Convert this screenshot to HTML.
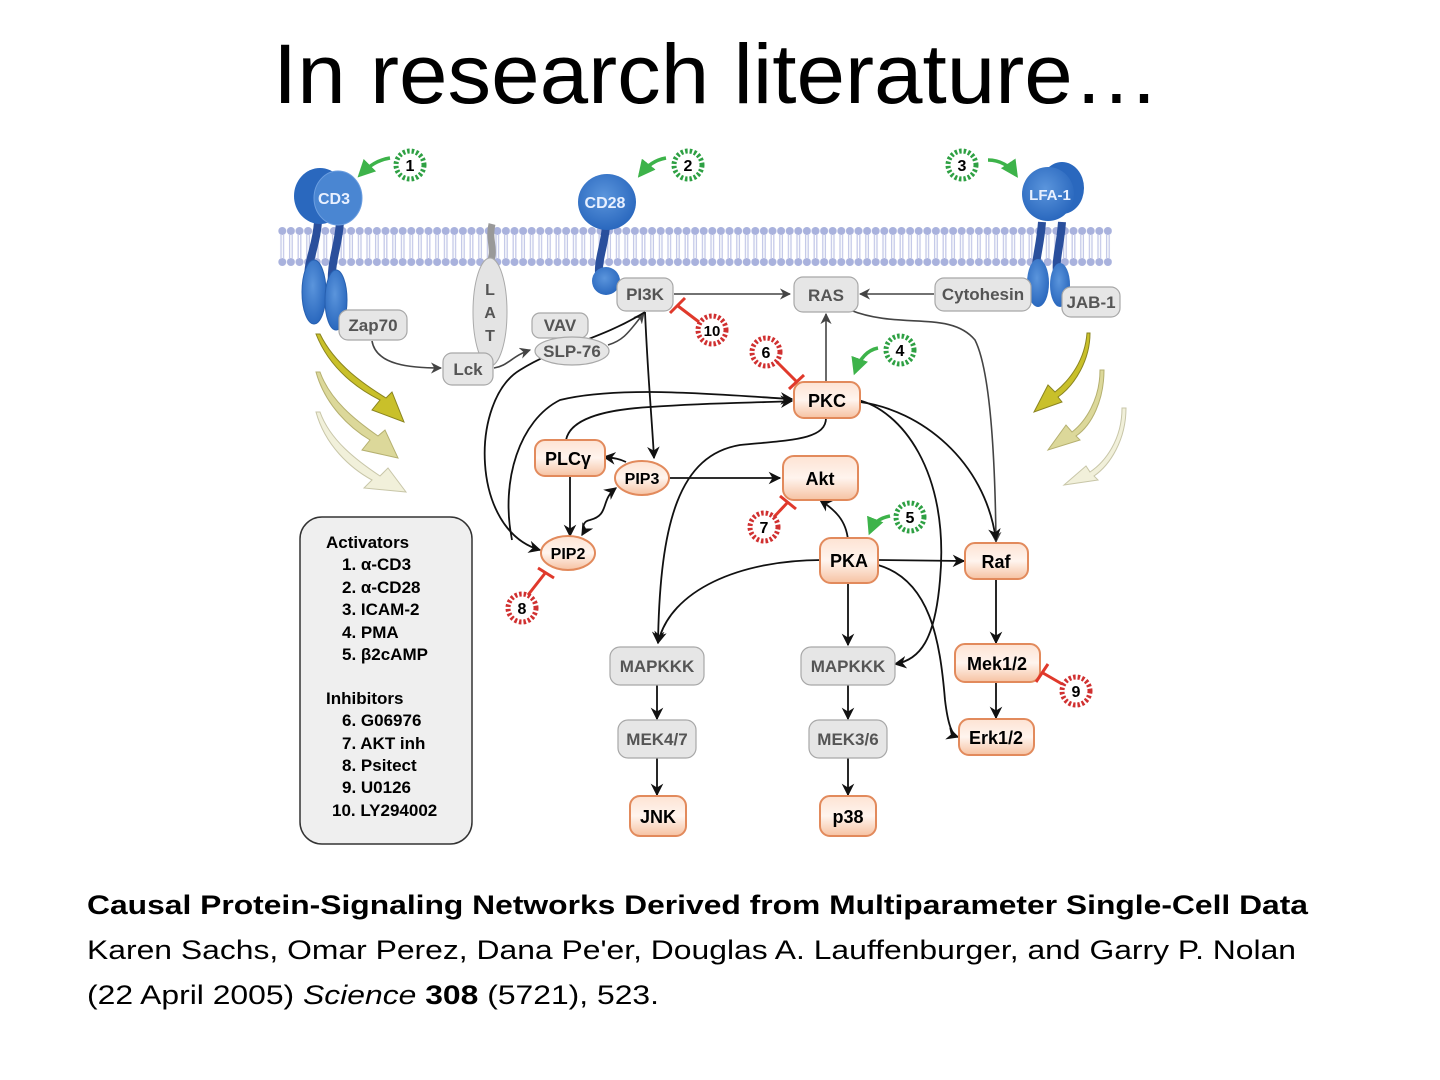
<!DOCTYPE html>
<html><head><meta charset="utf-8"><style>
html,body{margin:0;padding:0;background:#fff;width:1440px;height:1080px;overflow:hidden}
svg{display:block}
</style></head><body>
<svg width="1440" height="1080" viewBox="0 0 1440 1080" xmlns="http://www.w3.org/2000/svg" font-family="Liberation Sans, Arial, sans-serif">
<defs>
<marker id="a" viewBox="0 0 10 10" refX="9" refY="5" markerWidth="7" markerHeight="7" orient="auto-start-reverse"><path d="M0,0 L10,5 L0,10 L3,5z" fill="#111"/></marker>
<marker id="g" viewBox="0 0 10 10" refX="9" refY="5" markerWidth="7" markerHeight="7" orient="auto"><path d="M0,0 L10,5 L0,10 L3,5z" fill="#444"/></marker>
<marker id="gr" viewBox="0 0 10 10" refX="8" refY="5" markerWidth="5" markerHeight="5" orient="auto"><path d="M0,0 L10,5 L0,10z" fill="#3db34a"/></marker>
<pattern id="lip" x="278" y="0" width="8.6" height="1080" patternUnits="userSpaceOnUse">
<circle cx="4.3" cy="231" r="4" fill="#a9b2dd"/><circle cx="4.3" cy="262" r="4" fill="#a9b2dd"/>
<line x1="3" y1="234" x2="3" y2="259" stroke="#c4c9e8" stroke-width="1.3"/><line x1="5.6" y1="234" x2="5.6" y2="259" stroke="#c4c9e8" stroke-width="1.3"/>
</pattern>
<linearGradient id="og" x1="0" y1="0" x2="0" y2="1"><stop offset="0" stop-color="#fde3d3"/><stop offset="0.5" stop-color="#fff4ee"/><stop offset="1" stop-color="#f6c2a2"/></linearGradient>
<radialGradient id="bl" cx="0.45" cy="0.4" r="0.6"><stop offset="0" stop-color="#5b95dc"/><stop offset="1" stop-color="#2a68be"/></radialGradient>
</defs>

<text x="273" y="103" font-size="84" textLength="887" lengthAdjust="spacingAndGlyphs" fill="#000">In research literature…</text>

<rect x="278" y="224" width="834" height="44" fill="url(#lip)"/>

<path d="M316,334 C330,370 360,390 380,400 L372,410 L404,422 L392,392 L386,398 C365,385 335,365 320,334z" fill="#c9c02a" stroke="#8a8420" stroke-width="1"/>
<path d="M316,372 C325,405 350,428 370,440 L362,450 L398,458 L385,430 L378,436 C355,420 330,400 320,372z" fill="#dcd89a" stroke="#b5b070" stroke-width="1"/>
<path d="M316,412 C325,445 350,468 372,480 L364,488 L406,492 L388,468 L380,476 C356,460 330,440 320,412z" fill="#f1f0da" stroke="#c8c6a8" stroke-width="1"/>
<path d="M1087,333 C1085,360 1070,380 1055,392 L1048,385 L1034,412 L1062,402 L1058,397 C1075,385 1090,360 1090,333z" fill="#c9c02a" stroke="#8a8420" stroke-width="1"/>
<path d="M1100,370 C1100,400 1085,422 1072,432 L1066,425 L1048,450 L1080,440 L1076,436 C1092,425 1104,400 1104,370z" fill="#dcd89a" stroke="#b5b070" stroke-width="1"/>
<path d="M1122,408 C1122,440 1105,462 1090,472 L1086,466 L1064,485 L1098,480 L1094,476 C1110,465 1126,440 1126,408z" fill="#f1f0da" stroke="#c8c6a8" stroke-width="1"/>

<path d="M318,222 C316,250 306,260 308,290" stroke="#2a4f9c" stroke-width="8" fill="none"/>
<path d="M340,222 C338,250 330,260 332,290" stroke="#2a4f9c" stroke-width="8" fill="none"/>
<ellipse cx="314" cy="292" rx="12" ry="32" fill="url(#bl)" stroke="#2760b0"/>
<ellipse cx="336" cy="300" rx="11" ry="30" fill="url(#bl)" stroke="#2760b0"/>
<ellipse cx="320" cy="196" rx="26" ry="28" fill="#2a68be"/>
<ellipse cx="338" cy="198" rx="24" ry="27" fill="#4a86d2" stroke="#6b9ee0"/>
<text x="334" y="204" font-size="16" font-weight="bold" fill="#e8f0ff" text-anchor="middle">CD3</text>
<path d="M606,226 C604,250 596,262 600,282" stroke="#2a4f9c" stroke-width="8" fill="none"/>
<circle cx="606" cy="281" r="14" fill="url(#bl)"/>
<ellipse cx="607" cy="202" rx="29" ry="28" fill="url(#bl)"/>
<text x="605" y="208" font-size="16" font-weight="bold" fill="#e8f0ff" text-anchor="middle">CD28</text>
<path d="M1042,222 C1040,250 1034,260 1036,282" stroke="#2a4f9c" stroke-width="8" fill="none"/>
<path d="M1062,222 C1060,250 1054,260 1058,282" stroke="#2a4f9c" stroke-width="8" fill="none"/>
<ellipse cx="1038" cy="283" rx="11" ry="24" fill="url(#bl)"/>
<ellipse cx="1060" cy="285" rx="10" ry="22" fill="url(#bl)"/>
<ellipse cx="1062" cy="188" rx="22" ry="26" fill="#2a68be"/>
<ellipse cx="1048" cy="194" rx="26" ry="27" fill="url(#bl)"/>
<text x="1050" y="200" font-size="15" font-weight="bold" fill="#e8f0ff" text-anchor="middle">LFA-1</text>

<path d="M492,224 C488,240 496,250 490,262" stroke="#999" stroke-width="7" fill="none"/>
<ellipse cx="490" cy="312" rx="17" ry="54" fill="#e4e4e4" stroke="#aaa"/>
<text x="490" y="295" font-size="16" font-weight="bold" fill="#555" text-anchor="middle">L</text>
<text x="490" y="318" font-size="16" font-weight="bold" fill="#555" text-anchor="middle">A</text>
<text x="490" y="341" font-size="16" font-weight="bold" fill="#555" text-anchor="middle">T</text>

<g stroke="#444" stroke-width="1.6" fill="none" marker-end="url(#g)">
<path d="M372,341 C376,365 410,368 441,368"/>
<path d="M494,368 C508,366 512,356 530,350"/>
<path d="M608,345 C625,340 630,330 644,313"/>
<path d="M674,294 L790,294"/>
<path d="M934,294 L860,294"/>
<path d="M826,382 L826,314"/>
<path d="M850,310 C900,330 950,310 975,340 C990,370 995,450 996,542"/>
</g>
<g stroke="#111" stroke-width="1.8" fill="none" marker-end="url(#a)">
<path d="M645,312 C600,340 560,345 520,370 C470,400 470,530 540,550"/>
<path d="M645,312 C648,380 652,420 654,458"/>
<path d="M512,540 C500,480 520,420 560,400 C620,385 720,395 792,399"/>
<path d="M566,440 C570,420 600,410 650,407 C720,402 760,403 792,401"/>
<path d="M626,462 C618,458 612,458 604,457"/>
<path d="M570,476 L570,536"/>
<path d="M668,478 L780,478"/>
<path d="M848,540 C846,520 835,510 820,500"/>
<path d="M826,418 C826,440 790,440 740,445 C680,455 660,520 658,643"/>
<path d="M822,560 C740,560 670,590 658,643"/>
<path d="M878,560 L964,561"/>
<path d="M848,582 L848,645"/>
<path d="M858,400 C900,410 950,470 940,580 C935,640 920,660 895,664"/>
<path d="M860,402 C920,410 985,460 996,540"/>
<path d="M878,565 C930,580 940,640 945,700 C948,725 952,735 958,737"/>
<path d="M996,580 L996,643"/>
<path d="M996,683 L996,718"/>
<path d="M657,684 L657,719"/>
<path d="M657,758 L657,795"/>
<path d="M848,684 L848,719"/>
<path d="M848,758 L848,795"/>
</g>
<path d="M616,488 C600,500 610,515 590,520 C580,522 585,530 582,535" stroke="#111" stroke-width="1.8" fill="none" marker-start="url(#a)" marker-end="url(#a)"/>

<g fill="#e6e6e6" stroke="#a8a8a8" stroke-width="1.2">
<rect x="339" y="310" width="68" height="30" rx="9"/>
<rect x="443" y="353" width="50" height="32" rx="9"/>
<rect x="532" y="313" width="56" height="25" rx="8"/>
<ellipse cx="572" cy="351" rx="37" ry="14"/>
<rect x="617" y="278" width="56" height="33" rx="9"/>
<rect x="794" y="277" width="64" height="35" rx="9"/>
<rect x="935" y="278" width="96" height="33" rx="9"/>
<rect x="1062" y="287" width="58" height="30" rx="9"/>
<rect x="610" y="647" width="94" height="38" rx="10"/>
<rect x="801" y="647" width="94" height="38" rx="10"/>
<rect x="618" y="720" width="78" height="38" rx="10"/>
<rect x="809" y="720" width="78" height="38" rx="10"/>
</g>
<g font-size="17" font-weight="bold" fill="#555" text-anchor="middle">
<text x="373" y="331">Zap70</text>
<text x="468" y="375">Lck</text>
<text x="560" y="331">VAV</text>
<text x="572" y="357">SLP-76</text>
<text x="645" y="300">PI3K</text>
<text x="826" y="301">RAS</text>
<text x="983" y="300">Cytohesin</text>
<text x="1091" y="308">JAB-1</text>
<text x="657" y="672">MAPKKK</text>
<text x="848" y="672">MAPKKK</text>
<text x="657" y="745">MEK4/7</text>
<text x="848" y="745">MEK3/6</text>
</g>

<g fill="url(#og)" stroke="#e28a5c" stroke-width="2">
<rect x="794" y="382" width="66" height="36" rx="10"/>
<rect x="535" y="440" width="70" height="36" rx="10"/>
<ellipse cx="642" cy="478" rx="27" ry="17"/>
<rect x="783" y="456" width="75" height="44" rx="11"/>
<ellipse cx="568" cy="553" rx="27" ry="17"/>
<rect x="820" y="538" width="58" height="45" rx="11"/>
<rect x="965" y="543" width="63" height="36" rx="10"/>
<rect x="955" y="644" width="85" height="38" rx="10"/>
<rect x="959" y="719" width="75" height="36" rx="10"/>
<rect x="630" y="796" width="56" height="40" rx="10"/>
<rect x="820" y="796" width="56" height="40" rx="10"/>
</g>
<g font-size="18" font-weight="bold" fill="#000" text-anchor="middle">
<text x="827" y="407">PKC</text>
<text x="568" y="465">PLCγ</text>
<text x="642" y="484" font-size="16">PIP3</text>
<text x="820" y="485">Akt</text>
<text x="568" y="559" font-size="16">PIP2</text>
<text x="849" y="567">PKA</text>
<text x="996" y="568">Raf</text>
<text x="997" y="670">Mek1/2</text>
<text x="996" y="744">Erk1/2</text>
<text x="658" y="823">JNK</text>
<text x="848" y="823">p38</text>
</g>

<g stroke="#3db34a" stroke-width="3.5" fill="none" marker-end="url(#gr)">
<path d="M390,158 C378,160 370,165 360,175"/>
<path d="M666,158 C655,160 648,165 640,175"/>
<path d="M988,160 C1000,160 1010,166 1016,175"/>
<path d="M878,348 C868,350 860,358 855,372"/>
<path d="M890,516 C880,518 874,522 870,532"/>
</g>
<g stroke="#e0392b" stroke-width="3" fill="none">
<path d="M699,322 L678,306"/><path d="M670,313 L685,298"/>
<path d="M777,362 L797,382"/><path d="M789,389 L804,375"/>
<path d="M773,518 L788,502"/><path d="M780,496 L796,509"/>
<path d="M528,595 L546,572"/><path d="M538,568 L554,578"/>
<path d="M1062,684 L1043,673"/><path d="M1036,682 L1048,664"/>
</g>
<g fill="#fff" stroke-width="5" stroke-dasharray="2.5 2">
<circle cx="410" cy="165" r="14" stroke="#2ea043"/>
<circle cx="688" cy="165" r="14" stroke="#2ea043"/>
<circle cx="962" cy="165" r="14" stroke="#2ea043"/>
<circle cx="900" cy="350" r="14" stroke="#2ea043"/>
<circle cx="910" cy="517" r="14" stroke="#2ea043"/>
<circle cx="766" cy="352" r="14" stroke="#d03030"/>
<circle cx="764" cy="527" r="14" stroke="#d03030"/>
<circle cx="522" cy="608" r="14" stroke="#d03030"/>
<circle cx="1076" cy="691" r="14" stroke="#d03030"/>
<circle cx="712" cy="330" r="14" stroke="#d03030"/>
</g>
<g font-size="16" font-weight="bold" fill="#000" text-anchor="middle">
<text x="410" y="171">1</text><text x="688" y="171">2</text><text x="962" y="171">3</text>
<text x="900" y="356">4</text><text x="910" y="523">5</text><text x="766" y="358">6</text>
<text x="764" y="533">7</text><text x="522" y="614">8</text><text x="1076" y="697">9</text>
<text x="712" y="336" font-size="15">10</text>
</g>

<rect x="300" y="517" width="172" height="327" rx="22" fill="#efefef" stroke="#333" stroke-width="1.5"/>
<g font-size="17" font-weight="bold" fill="#000">
<text x="326" y="548">Activators</text>
<text x="342" y="570">1. α-CD3</text>
<text x="342" y="593">2. α-CD28</text>
<text x="342" y="615">3. ICAM-2</text>
<text x="342" y="638">4. PMA</text>
<text x="342" y="660">5. β2cAMP</text>
<text x="326" y="704">Inhibitors</text>
<text x="342" y="726">6. G06976</text>
<text x="342" y="749">7. AKT inh</text>
<text x="342" y="771">8. Psitect</text>
<text x="342" y="793">9. U0126</text>
<text x="332" y="816">10. LY294002</text>
</g>

<g font-size="27" fill="#000">
<text x="87" y="914" font-weight="bold" textLength="1221" lengthAdjust="spacingAndGlyphs">Causal Protein-Signaling Networks Derived from Multiparameter Single-Cell Data</text>
<text x="87" y="959" textLength="1209" lengthAdjust="spacingAndGlyphs">Karen Sachs, Omar Perez, Dana Pe'er, Douglas A. Lauffenburger, and Garry P. Nolan</text>
<text x="87" y="1004" textLength="572" lengthAdjust="spacingAndGlyphs">(22 April 2005) <tspan font-style="italic">Science</tspan> <tspan font-weight="bold">308</tspan> (5721), 523.</text>
</g>
</svg>
</body></html>
